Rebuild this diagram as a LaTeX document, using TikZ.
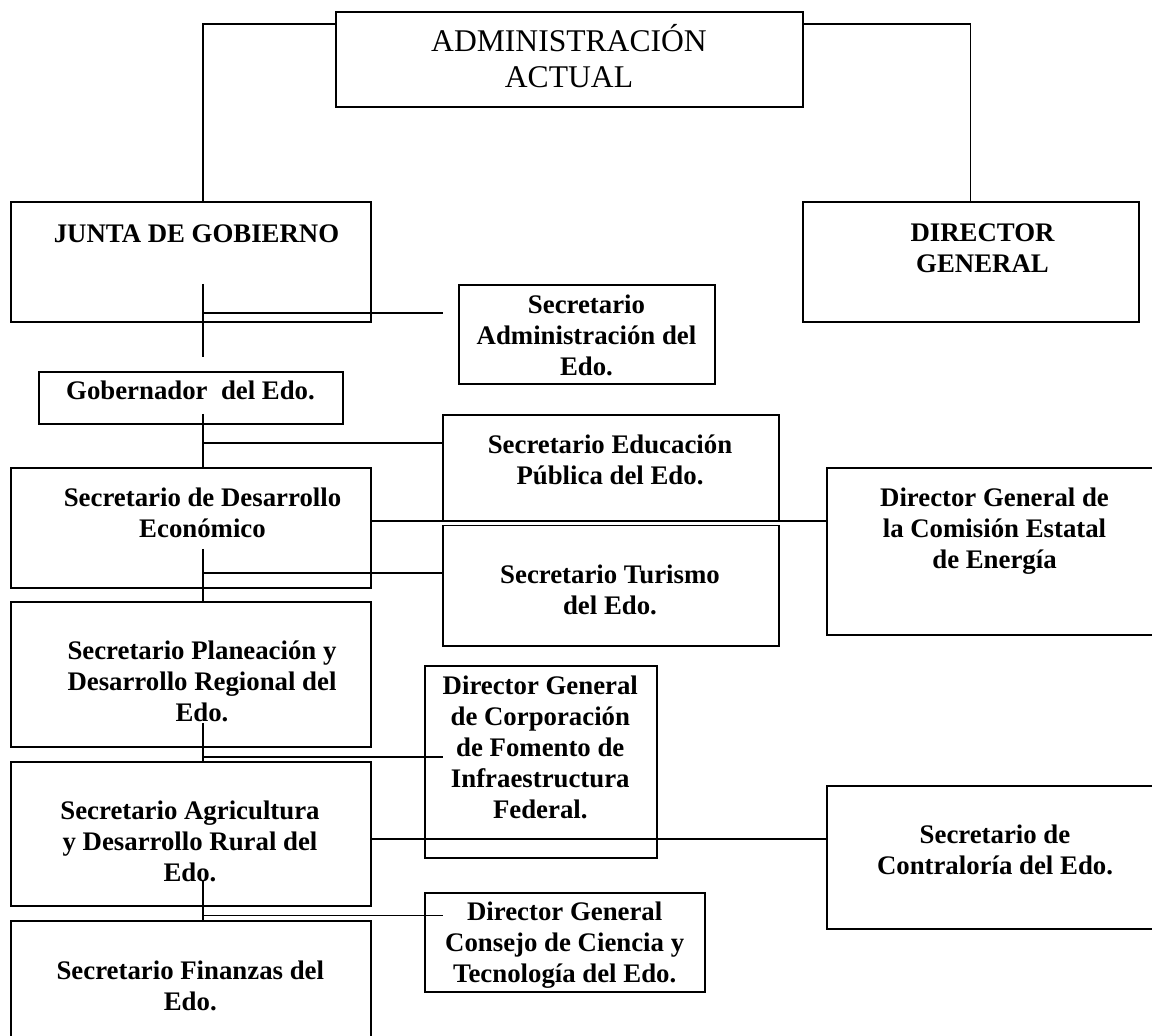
\documentclass[tikz,border=0pt]{standalone}
\usepackage{fontspec}
\setmainfont{Liberation Serif}
\newcommand\mlines[1]{\vtop{\halign{\hfil##\hfil\cr#1\crcr}}}
\newcommand\obox[5]{\node[obx, minimum width={(#4-#2)*0.5pt}, minimum height={(#5-#3)*0.5pt}] (#1) at ({(#2+#4)/2},{(#3+#5)/2}) {};}
\begin{document}
\begin{tikzpicture}[x=0.5pt,y=-0.5pt,
  obx/.style={draw, line width=0.8pt, rectangle, inner sep=0pt, outer sep=0pt},
  conn/.style={line width=0.8pt},
  btxt/.style={anchor=base, inner sep=0pt, font=\fontsize{13.4}{15.5}\selectfont\bfseries},
  rtxt/.style={anchor=base, inner sep=0pt, font=\fontsize{15.8}{18}\selectfont}]
\useasboundingbox (0,0) rectangle (1152,1036);
\clip (0,0) rectangle (1152,1036);
% boxes
\obox{admin}{336}{12}{803}{107}
\obox{junta}{11}{202}{371}{322}
\obox{dirgen}{803}{202}{1139}{322}
\obox{secadm}{459}{285}{715}{384}
\obox{gob}{39}{372}{343}{424}
\obox{educ}{443}{415}{779}{520.5}
\obox{tur}{443}{525.5}{779}{646}
\obox{econ}{11}{468}{371}{588}
\obox{comis}{827}{468}{1170}{635}
\obox{plan}{11}{602}{371}{747}
\obox{corp}{425}{666}{657}{858}
\obox{agri}{11}{762}{371}{906}
\obox{contr}{827}{786}{1170}{929}
\obox{consejo}{425}{893}{705}{992}
\obox{fin}{11}{921}{371}{1060}
% texts
\node[rtxt] (tadmin) at (569,52) {\mlines{ADMINISTRACIÓN\cr ACTUAL}};
\node[btxt] (tjunta) at (196.5,242.7) {JUNTA DE GOBIERNO};
\node[btxt] (tdirgen) at (982.5,241.7) {\mlines{DIRECTOR\cr GENERAL}};
\node[btxt] (tsecadm) at (586.5,313.3) {\mlines{Secretario\cr Administración del\cr Edo.}};
\node[btxt] (tgob) at (190.5,400) {Gobernador~ del Edo.};
\node[btxt] (teduc) at (610,453.3) {\mlines{Secretario Educación\cr Pública del Edo.}};
\node[btxt] (ttur) at (610,583.3) {\mlines{Secretario Turismo\cr del Edo.}};
\node[btxt] (tecon) at (202.5,506.7) {\mlines{Secretario de Desarrollo\cr Económico}};
\node[btxt] (tcomis) at (994.5,506.7) {\mlines{Director General de\cr la Comisión Estatal\cr de Energía}};
\node[btxt] (tplan) at (202,660) {\mlines{Secretario Planeación y\cr Desarrollo Regional del\cr Edo.}};
\node[btxt] (tcorp) at (540.3,694.3) {\mlines{Director General\cr de Corporación\cr de Fomento de\cr Infraestructura\cr Federal.}};
\node[btxt] (tagri) at (190,820) {\mlines{Secretario Agricultura\cr y Desarrollo Rural del\cr Edo.}};
\node[btxt] (tcontr) at (995,843.3) {\mlines{Secretario de\cr Contraloría del Edo.}};
\node[btxt] (tconsejo) at (564.7,921) {\mlines{Director General\cr Consejo de Ciencia y\cr Tecnología del Edo.}};
\node[btxt] (tfin) at (190.3,980) {\mlines{Secretario Finanzas del\cr Edo.}};
% connectors
\draw[conn] (admin.west |- 0,24) -| (junta.north -| 203,0);
\draw[conn] (admin.east |- 0,24) -| (dirgen.north -| 970.5,0);
\coordinate (j1) at (203,284); \coordinate (j2) at (203,357);
\draw[conn] (j1) -- (j2);
\coordinate (h1) at (203,313); \coordinate (h1e) at (443,313);
\draw[conn] (h1) -- (h1e);
\coordinate (g1) at (203,414);
\draw[conn] (g1) -- (g1 |- econ.north);
\coordinate (g2) at (203,443);
\draw[conn] (g2) -- (educ.west |- g2);
\draw[conn] (econ.east |- 0,521) -- (comis.west |- 0,521);
\coordinate (e1) at (203,549);
\draw[conn] (e1) -- (e1 |- plan.north);
\coordinate (e2) at (203,573);
\draw[conn] (e2) -- (tur.west |- e2);
\coordinate (p1) at (203,723);
\draw[conn] (p1) -- (p1 |- agri.north);
\coordinate (p2) at (203,757); \coordinate (p2e) at (443,757);
\draw[conn] (p2) -- (p2e);
\draw[conn] (agri.east |- 0,839) -- (contr.west |- 0,839);
\coordinate (a1) at (203,880);
\draw[conn] (a1) -- (a1 |- fin.north);
\coordinate (a2) at (203,915.7); \coordinate (a2e) at (443,915.7);
\draw[conn] (a2) -- (a2e);
\end{tikzpicture}
\end{document}
